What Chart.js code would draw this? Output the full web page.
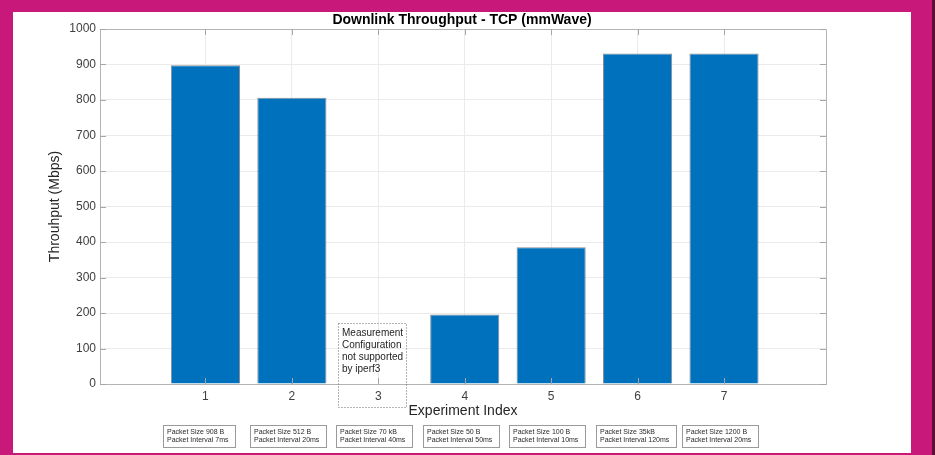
<!DOCTYPE html>
<html>
<head>
<meta charset="utf-8">
<script src="https://cdn.jsdelivr.net/npm/chart.js@4.4.1/dist/chart.umd.min.js"></script>
<style>
  html, body { margin: 0; padding: 0; }
  body { width: 935px; height: 455px; background: #c8197b; position: relative; overflow: hidden; }
  #panel { position: absolute; left: 13px; top: 12px; width: 898px; height: 441px; background: #ffffff; }
  #edge { position: absolute; left: 932px; top: 0; width: 3px; height: 455px; background: #5e0d37; }
  canvas { display: block; }
</style>
</head>
<body>
<div id="panel"><canvas id="chart" width="898" height="441"></canvas></div>
<div id="edge"></div>
<script>
// Experiment indices and measured downlink TCP throughput (Mbps)
const experiments = [1, 2, 3, 4, 5, 6, 7];
const throughput = [898, 806, null, 196, 385, 931, 931];
const yTicks = [0, 100, 200, 300, 400, 500, 600, 700, 800, 900, 1000];

// Traffic configuration used in each experiment
const packetSizes = ['908 B', '512 B', '70 kB', '50 B', '100 B', '35kB', '1200 B'];
const packetIntervals = ['7ms', '20ms', '40ms', '50ms', '10ms', '120ms', '20ms'];

// Experiment that could not be run
const unsupportedIndex = 3;
const unsupportedNote = ['Measurement', 'Configuration', 'not supported', 'by iperf3'];

const FONT = '"Liberation Sans", Arial, Helvetica, sans-serif';
const AXIS_GRAY = '#b4b4b4';
Chart.defaults.font.family = FONT;

// Box around the axes with inward tick marks, plus the text annotations
const axesDecor = {
  id: 'axesDecor',
  afterDatasetsDraw(chart) {
    const { ctx, chartArea: a, scales: { x, y } } = chart;
    ctx.save();
    ctx.strokeStyle = AXIS_GRAY;
    ctx.lineWidth = 1;
    ctx.beginPath();
    ctx.rect(Math.round(a.left) + 0.5, Math.round(a.top) + 0.5,
             Math.round(a.right - a.left), Math.round(a.bottom - a.top));
    ctx.stroke();
    const tl = 6;
    ctx.strokeStyle = '#a6a6a6';
    ctx.beginPath();
    x.ticks.forEach(t => {
      const px = Math.round(x.getPixelForValue(t.value)) + 0.5;
      ctx.moveTo(px, a.bottom); ctx.lineTo(px, a.bottom - tl);
      ctx.moveTo(px, a.top); ctx.lineTo(px, a.top + tl);
    });
    y.ticks.forEach(t => {
      const py = Math.round(y.getPixelForValue(t.value)) + 0.5;
      ctx.moveTo(a.left, py); ctx.lineTo(a.left + tl, py);
      ctx.moveTo(a.right, py); ctx.lineTo(a.right - tl, py);
    });
    ctx.stroke();
    ctx.restore();
  },
  afterDraw(chart) {
    const { ctx, chartArea: a, scales: { x } } = chart;
    ctx.save();

    // Note for the unsupported configuration
    const nx = Math.round(x.getPixelForValue(unsupportedIndex)) - 40;
    const ny = Math.round(a.bottom) - 61;
    ctx.strokeStyle = '#6a6a6a';
    ctx.lineWidth = 1;
    ctx.setLineDash([1, 2]);
    ctx.strokeRect(nx + 0.5, ny + 0.5, 68, 84);
    ctx.setLineDash([]);
    ctx.fillStyle = '#1e1e1e';
    ctx.font = '10px ' + FONT;
    ctx.textBaseline = 'middle';
    ctx.textAlign = 'left';
    unsupportedNote.forEach((line, i) => ctx.fillText(line, nx + 4, ny + 10.5 + i * 12));

    // Configuration boxes under each experiment
    ctx.font = '7px ' + FONT;
    experiments.forEach((e, i) => {
      const l1 = 'Packet Size ' + packetSizes[i];
      const l2 = 'Packet Interval ' + packetIntervals[i];
      const w = Math.ceil(Math.max(ctx.measureText(l1).width, ctx.measureText(l2).width)) + 10;
      const bx = Math.round(x.getPixelForValue(e)) - 42;
      const by = 413;
      ctx.fillStyle = '#ffffff';
      ctx.fillRect(bx, by, w, 22);
      ctx.strokeStyle = '#9a9a9a';
      ctx.strokeRect(bx + 0.5, by + 0.5, w, 22);
      ctx.fillStyle = '#2a2a2a';
      ctx.fillText(l1, bx + 4, by + 7.5);
      ctx.fillText(l2, bx + 4, by + 15.5);
    });
    ctx.restore();
  }
};

new Chart(document.getElementById('chart'), {
  type: 'bar',
  data: {
    datasets: [{
      data: experiments.map((e, i) => ({ x: e, y: throughput[i] })),
      backgroundColor: '#0072bd',
      borderColor: 'rgba(70,80,95,0.65)',
      borderWidth: 1,
      barPercentage: 0.8,
      categoryPercentage: 1.0
    }]
  },
  options: {
    responsive: false,
    animation: false,
    layout: { padding: 0 },
    plugins: {
      legend: { display: false },
      tooltip: { enabled: false },
      title: {
        display: true,
        text: 'Downlink Throughput - TCP (mmWave)',
        color: '#000000',
        font: { size: 14, weight: 'bold' },
        padding: { top: 0, bottom: 0.2 }
      }
    },
    scales: {
      x: {
        type: 'linear',
        min: -0.22,
        max: 8.18,
        offset: false,
        afterBuildTicks(scale) { scale.ticks = experiments.map(v => ({ value: v })); },
        afterFit(scale) { scale.height = 69; },
        grid: { color: '#ebebeb', drawTicks: false, offset: false },
        border: { display: true, color: AXIS_GRAY },
        ticks: {
          padding: 5,
          color: '#404040',
          font: { size: 12 },
          callback: v => String(v)
        },
        title: {
          display: true,
          text: 'Experiment Index',
          color: '#262626',
          font: { size: 14 },
          padding: { top: 0, bottom: 33.6 }
        }
      },
      y: {
        min: 0,
        max: 1000,
        afterBuildTicks(scale) { scale.ticks = yTicks.map(v => ({ value: v })); },
        afterFit(scale) { scale.width = 87; },
        grid: { color: '#ebebeb', drawTicks: false },
        border: { display: true, color: AXIS_GRAY },
        ticks: {
          padding: 4,
          color: '#404040',
          font: { size: 12 },
          callback: v => String(v)
        },
        title: {
          display: true,
          text: 'Throuhput (Mbps)',
          color: '#262626',
          font: { size: 14 },
          padding: { top: 33.6, bottom: 0 }
        }
      },
      // empty margin to the right of the axes box
      margin: {
        type: 'linear',
        position: 'right',
        display: true,
        min: 0,
        max: 1,
        afterFit(scale) { scale.width = 85; },
        grid: { display: false, drawTicks: false },
        border: { display: false },
        ticks: { display: false }
      }
    }
  },
  plugins: [axesDecor]
});
</script>
</body>
</html>
